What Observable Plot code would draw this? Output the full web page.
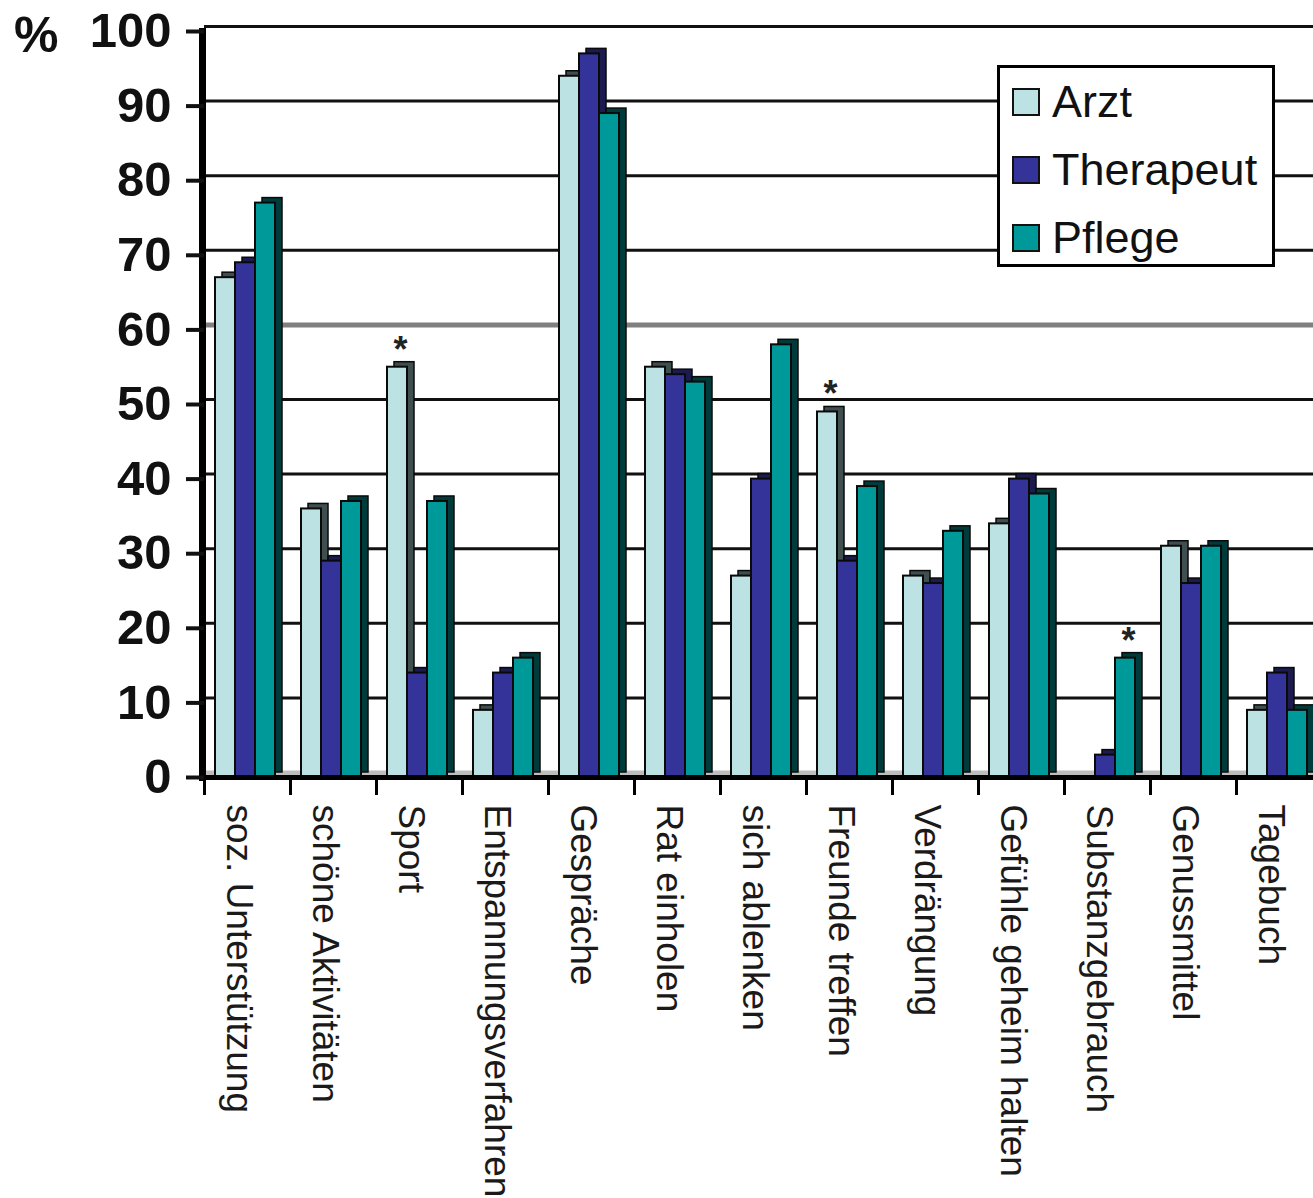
<!DOCTYPE html>
<html><head><meta charset="utf-8">
<script src="https://cdn.jsdelivr.net/npm/d3@7"></script>
<script src="https://cdn.jsdelivr.net/npm/@observablehq/plot@0.6"></script>
<style>
html,body{margin:0;padding:0;background:#fff;overflow:hidden;}
#wrap{position:relative;width:1313px;height:1198px;overflow:hidden;font-family:"Liberation Sans",Arial,sans-serif;}
#wrap svg{max-width:none !important;}
#pct{position:absolute;left:14px;top:10px;font-size:50px;font-weight:bold;line-height:1;color:#111;}
#legend{position:absolute;left:997px;top:65px;width:272px;height:196px;border:3px solid #000;background:#fff;}
.item{position:absolute;left:12px;height:68px;display:flex;align-items:center;font-size:45px;color:#111;white-space:nowrap;}
.sw{width:24px;height:24px;border:2.5px solid #111;margin-right:12px;flex:none;}
</style></head><body><div id="wrap"></div>
<script>
const categories = ["soz. Unterstützung","schöne Aktivitäten","Sport","Entspannungsverfahren","Gespräche","Rat einholen","sich ablenken","Freunde treffen","Verdrängung","Gefühle geheim halten","Substanzgebrauch","Genussmittel","Tagebuch"];
const seriesNames = ["Arzt","Therapeut","Pflege"];
const arzt      = [67,36,55, 9,94,55,27,49,27,34, 0,31, 9];
const therapeut = [69,29,14,14,97,54,40,29,26,40, 3,26,14];
const pflege    = [77,37,37,16,89,53,58,39,33,38,16,31, 9];
const starred = [["Sport","Arzt"],["Freunde treffen","Arzt"],["Substanzgebrauch","Pflege"]];
const yTicks = [0,10,20,30,40,50,60,70,80,90,100];

const frontColor = {Arzt:"#bde2e4", Therapeut:"#333399", Pflege:"#009999"};
const backColor  = {Arzt:"#3f4f50", Therapeut:"#1b1b4f", Pflege:"#003b3b"};

const seriesValues = [arzt, therapeut, pflege];
const rows = categories.flatMap((c,i) => seriesNames.map((s,j) => ({category:c, series:s, value:seriesValues[j][i]})));
const starRows = rows.filter(r => starred.some(([c,s]) => c===r.category && s===r.series));

const W = 1327, H = 1198, mT = 31, mB = 421, mL = 199;
const depthX = 7, depthY = 5;

const chart = Plot.plot({
  width: W, height: H,
  marginLeft: mL, marginRight: 0, marginTop: mT, marginBottom: mB,
  style: {fontFamily: '"Liberation Sans", Arial, sans-serif', background: "transparent", color: "#111", overflow: "visible", maxWidth: "none"},
  fx: {domain: categories, padding: 0, label: null},
  x: {domain: seriesNames, paddingInner: 0, paddingOuter: 0.65, align: 0.42, axis: null},
  y: {domain: [0,100], label: null},
  marks: [
    Plot.ruleY([0], {stroke: "#bdbdbd", strokeWidth: 6, dy: -4}),
    Plot.ruleY(yTicks.filter(t => t > 0 && t !== 60), {stroke: "#111", strokeWidth: 3, dy: -5}),
    Plot.ruleY(yTicks.filter(t => t === 60), {stroke: "#808080", strokeWidth: 5, dy: -5}),
    ...seriesNames.map(s => Plot.barY(rows.filter(r => r.series === s), {
      fx: "category", x: "series", y: "value",
      fill: backColor[s], stroke: "#0a0a0a", strokeWidth: 1.5, dx: depthX, dy: -depthY
    })),
    ...seriesNames.map(s => Plot.barY(rows.filter(r => r.series === s), {
      fx: "category", x: "series", y: "value",
      fill: frontColor[s], stroke: "#0a0a0a", strokeWidth: 2
    })),
    Plot.text(starRows, {fx: "category", x: "series", y: "value", text: () => "*", fontSize: 36, fontWeight: "bold", dx: 3, dy: -17, fill: "#222"}),
    Plot.ruleY([0], {stroke: "#000", strokeWidth: 5}),
    Plot.frame({anchor: "left", insetTop: H - mT - mB + 3, insetBottom: -16, strokeWidth: 3, stroke: "#000"}),
    Plot.frame({anchor: "left", facetAnchor: "left", strokeWidth: 7, stroke: "#000", dx: -2}),
    Plot.axisY(yTicks, {anchor: "left", tickSize: 18, tickPadding: 15, fontSize: 49, fontWeight: "bold", strokeWidth: 4, label: null}),
    Plot.axisFx({anchor: "bottom", tickRotate: 90, tickSize: 0, tickPadding: 27, fontSize: 37, label: null, fill: "#1a1a1a", dx: -9})
  ]
});

const wrap = document.getElementById("wrap");
wrap.appendChild(chart);

const pct = document.createElement("div");
pct.id = "pct"; pct.textContent = "%";
wrap.appendChild(pct);

const legend = document.createElement("div");
legend.id = "legend";
seriesNames.forEach((s, i) => {
  const item = document.createElement("div");
  item.className = "item";
  item.style.top = (i * 68) + "px";
  const sw = document.createElement("div");
  sw.className = "sw"; sw.style.background = frontColor[s];
  const t = document.createElement("span");
  t.textContent = s;
  item.appendChild(sw); item.appendChild(t);
  legend.appendChild(item);
});
wrap.appendChild(legend);
</script></body></html>
